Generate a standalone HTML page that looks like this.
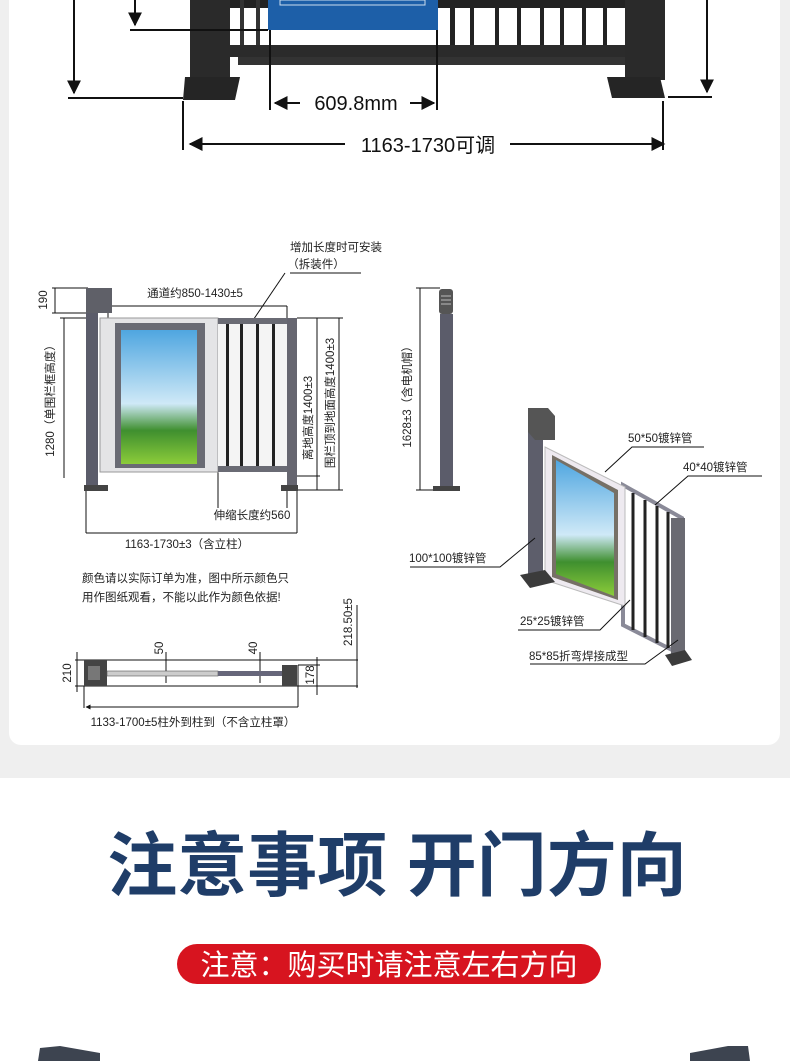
<!DOCTYPE html>
<html><head><meta charset="utf-8"><style>
html,body{margin:0;padding:0;background:#efefef;}
svg{display:block;}
text{font-family:"Liberation Sans","Noto Sans CJK SC",sans-serif;}
</style></head><body>
<svg width="790" height="1061" viewBox="0 0 790 1061" xmlns="http://www.w3.org/2000/svg">
<defs>
<marker id="ar" viewBox="0 0 10 10" refX="9" refY="5" markerWidth="7" markerHeight="7" orient="auto-start-reverse"><path d="M0,0L10,5L0,10z" fill="#111"/></marker>
<marker id="ar2" viewBox="0 0 10 10" refX="9" refY="5" markerWidth="5" markerHeight="5" orient="auto-start-reverse"><path d="M0,0L10,5L0,10z" fill="#111"/></marker>
<linearGradient id="sky" x1="0" y1="0" x2="0" y2="1"><stop offset="0" stop-color="#4fa6e0"/><stop offset="0.55" stop-color="#cfe9f7"/><stop offset="0.75" stop-color="#3f8f2f"/><stop offset="1" stop-color="#8ccc3a"/></linearGradient>
</defs>
<rect x="0" y="0" width="790" height="1061" fill="#efefef"/>
<path d="M9,0H780V733a12,12 0 0 1 -12,12H21a12,12 0 0 1 -12,-12z" fill="#fff"/>
<rect x="0" y="778" width="790" height="283" fill="#fff"/>

<!-- top gate photo -->
<rect x="225" y="0" width="415" height="8" fill="#222"/>
<rect x="228" y="45" width="410" height="12" fill="#2b2b2b"/>
<rect x="238" y="57" width="400" height="8" fill="#333"/>
<rect x="240" y="0" width="4" height="45" fill="#333"/>
<rect x="256" y="0" width="4" height="45" fill="#333"/>
<rect x="268" y="0" width="170" height="30" fill="#1d5fa8"/>
<rect x="280" y="0" width="145" height="5" fill="none" stroke="#cde" stroke-width="1"/>
<g fill="#222"><rect x="450" y="0" width="5" height="45"/><rect x="470" y="0" width="4" height="45"/><rect x="495" y="0" width="4" height="45"/><rect x="517" y="0" width="4" height="45"/><rect x="540" y="0" width="4" height="45"/><rect x="560" y="0" width="4" height="45"/><rect x="582" y="0" width="4" height="45"/><rect x="603" y="0" width="4" height="45"/></g>
<rect x="190" y="0" width="40" height="80" fill="#2a2a2a"/>
<path d="M185,77H240L235,100H183z" fill="#252525"/>
<rect x="625" y="0" width="40" height="80" fill="#2a2a2a"/>
<path d="M607,77H660L665,98H612z" fill="#252525"/>

<g stroke="#111" stroke-width="2" fill="none">
<line x1="74" y1="0" x2="74" y2="93" marker-end="url(#ar)"/>
<line x1="68" y1="98" x2="183" y2="98"/>
<line x1="135" y1="0" x2="135" y2="25" marker-end="url(#ar)"/>
<line x1="130" y1="30" x2="268" y2="30"/>
<line x1="270" y1="30" x2="270" y2="110"/>
<line x1="437" y1="30" x2="437" y2="110"/>
<line x1="300" y1="103" x2="275" y2="103" marker-end="url(#ar)"/>
<line x1="410" y1="103" x2="434" y2="103" marker-end="url(#ar)"/>
<line x1="183" y1="101" x2="183" y2="150"/>
<line x1="663" y1="101" x2="663" y2="150"/>
<line x1="230" y1="144" x2="190" y2="144" marker-end="url(#ar)"/>
<line x1="230" y1="144" x2="345" y2="144"/>
<line x1="510" y1="144" x2="664" y2="144" marker-end="url(#ar)"/>
<line x1="707" y1="0" x2="707" y2="92" marker-end="url(#ar)"/>
<line x1="668" y1="97" x2="712" y2="97"/>
</g>
<text x="356" y="110" font-size="20" text-anchor="middle" fill="#111">609.8mm</text>
<text x="428" y="152" font-size="20" text-anchor="middle" fill="#111">1163-1730可调</text>

<!-- front elevation -->
<text x="336" y="251" font-size="11.5" text-anchor="middle" fill="#222">增加长度时可安装</text>
<text x="316" y="268" font-size="11.5" text-anchor="middle" fill="#222">（拆装件）</text>
<line x1="290" y1="273" x2="361" y2="273" stroke="#111"/>
<line x1="285" y1="273" x2="243" y2="335" stroke="#111"/>
<text x="195" y="297" font-size="11.5" text-anchor="middle" fill="#222">通道约850-1430±5</text>
<g stroke="#111" stroke-width="1" fill="none">
<line x1="52" y1="288" x2="88" y2="288"/><line x1="52" y1="313" x2="88" y2="313"/><line x1="55" y1="288" x2="55" y2="313"/>
<line x1="108" y1="306" x2="287" y2="306"/><line x1="108" y1="306" x2="108" y2="318"/><line x1="287" y1="306" x2="287" y2="318"/>
<line x1="64" y1="318" x2="64" y2="478"/><line x1="60" y1="318" x2="86" y2="318"/>
<line x1="297" y1="318" x2="343" y2="318"/>
<line x1="317" y1="318" x2="317" y2="490"/><line x1="339" y1="318" x2="339" y2="490"/>
<line x1="297" y1="490" x2="343" y2="490"/><line x1="297" y1="476" x2="320" y2="476"/>
<line x1="218" y1="472" x2="218" y2="508"/><line x1="287" y1="491" x2="287" y2="508"/>
<line x1="86" y1="491" x2="86" y2="533"/><line x1="297" y1="491" x2="297" y2="533"/><line x1="86" y1="533" x2="297" y2="533"/>
</g>
<text transform="translate(47,300) rotate(-90)" font-size="11.5" text-anchor="middle" fill="#222">190</text>
<text transform="translate(54,398) rotate(-90)" font-size="11.5" text-anchor="middle" fill="#222">1280（单围栏框高度）</text>
<text transform="translate(312,418) rotate(-90)" font-size="11.5" text-anchor="middle" fill="#222">离地高度1400±3</text>
<text transform="translate(334,403) rotate(-90)" font-size="11.5" text-anchor="middle" fill="#222">围栏顶到地面高度1400±3</text>
<text x="252" y="519" font-size="11.5" text-anchor="middle" fill="#222">伸缩长度约560</text>
<text x="187" y="548" font-size="11.5" text-anchor="middle" fill="#222">1163-1730±3（含立柱）</text>
<rect x="86" y="288" width="26" height="25" fill="#5f6068"/>
<rect x="86" y="313" width="12" height="174" fill="#5b5c6a"/>
<rect x="84" y="485" width="24" height="6" fill="#444"/>
<rect x="100" y="318" width="118" height="154" fill="#e4e4e6" stroke="#999"/>
<rect x="115" y="323" width="90" height="145" fill="#6a6b74"/>
<rect x="121" y="330" width="76" height="134" fill="url(#sky)"/>
<rect x="218" y="318" width="69" height="6" fill="#6a6b74"/>
<rect x="218" y="466" width="69" height="6" fill="#6a6b74"/>
<rect x="218" y="324" width="69" height="142" fill="#f4f4f4"/>
<g fill="#222"><rect x="226" y="324" width="3" height="142"/><rect x="240" y="324" width="3" height="142"/><rect x="256" y="324" width="3" height="142"/><rect x="272" y="324" width="3" height="142"/></g>
<rect x="287" y="318" width="10" height="169" fill="#666670"/>
<rect x="281" y="485" width="17" height="6" fill="#444"/>

<!-- side post -->
<line x1="420" y1="288" x2="420" y2="490" stroke="#111"/>
<line x1="416" y1="288" x2="440" y2="288" stroke="#111"/>
<line x1="416" y1="490" x2="440" y2="490" stroke="#111"/>
<text transform="translate(411,394) rotate(-90)" font-size="11.5" text-anchor="middle" fill="#222">1628±3（含电机帽）</text>
<rect x="439" y="289" width="14" height="25" rx="3" fill="#555"/>
<g stroke="#bbb"><line x1="441" y1="296" x2="451" y2="296"/><line x1="441" y1="300" x2="451" y2="300"/><line x1="441" y1="304" x2="451" y2="304"/></g>
<rect x="440" y="314" width="13" height="174" fill="#5b5c6a"/>
<rect x="433" y="486" width="27" height="5" fill="#444"/>

<!-- isometric -->
<polygon points="623,485 682,518 682,655 623,625" fill="#fff" stroke="#8a8a98" stroke-width="4"/>
<g stroke="#222" stroke-width="3"><line x1="633" y1="493" x2="633" y2="630"/><line x1="645" y1="500" x2="645" y2="637"/><line x1="657" y1="506" x2="657" y2="643"/><line x1="668" y1="512" x2="668" y2="648"/></g>
<polygon points="545,447 625,487 625,606 545,580" fill="#eeeaf0" stroke="#bbb"/>
<polygon points="552,455 618,490 618,600 552,577" fill="#767066"/>
<polygon points="556,460 614,493 614,596 556,574" fill="url(#sky)"/>
<rect x="528" y="425" width="15" height="155" fill="#5d5e6b"/>
<polygon points="528,408 548,408 555,416 555,440 535,440 528,432" fill="#555"/>
<polygon points="520,575 545,570 555,582 530,588" fill="#3b3b3b"/>
<rect x="671" y="518" width="14" height="142" fill="#6a6a72"/>
<polygon points="665,655 685,650 692,660 672,666" fill="#3b3b3b"/>
<g stroke="#111" stroke-width="1" fill="none">
<polyline points="605,472 632,447 704,447"/>
<polyline points="655,505 688,476 762,476"/>
<polyline points="410,567 500,567 535,538"/>
<polyline points="518,630 600,630 630,600"/>
<polyline points="530,664 645,664 678,640"/>
</g>
<g font-size="11.5" fill="#222">
<text x="628" y="442">50*50镀锌管</text>
<text x="683" y="471">40*40镀锌管</text>
<text x="409" y="562">100*100镀锌管</text>
<text x="520" y="625">25*25镀锌管</text>
<text x="529" y="660">85*85折弯焊接成型</text>
</g>

<!-- notes -->
<text x="82" y="582" font-size="11.5" fill="#222">颜色请以实际订单为准，图中所示颜色只</text>
<text x="82" y="601" font-size="11.5" fill="#222">用作图纸观看，不能以此作为颜色依据!</text>

<!-- top view -->
<g stroke="#111" stroke-width="1" fill="none">
<line x1="75" y1="660" x2="358" y2="660"/><line x1="75" y1="686" x2="358" y2="686"/>
<line x1="77" y1="652" x2="77" y2="692"/>
<line x1="166" y1="652" x2="166" y2="683"/><line x1="260" y1="652" x2="260" y2="683"/>
<line x1="317" y1="657" x2="317" y2="695"/><line x1="298" y1="665" x2="320" y2="665"/>
<line x1="357" y1="605" x2="357" y2="688"/>
<line x1="84" y1="686" x2="84" y2="708"/><line x1="298" y1="665" x2="298" y2="707"/>
<line x1="298" y1="707" x2="86" y2="707" marker-end="url(#ar2)"/>
</g>
<rect x="84" y="660" width="23" height="26" fill="#444"/>
<rect x="88" y="666" width="12" height="14" fill="#777"/>
<rect x="107" y="671" width="111" height="5" fill="#ccc" stroke="#555" stroke-width="0.6"/>
<rect x="218" y="671" width="72" height="5" fill="#66667a"/>
<rect x="282" y="665" width="15" height="21" fill="#444"/>
<text transform="translate(71,673) rotate(-90)" font-size="11.5" text-anchor="middle" fill="#222">210</text>
<text transform="translate(163,648) rotate(-90)" font-size="11.5" text-anchor="middle" fill="#222">50</text>
<text transform="translate(257,648) rotate(-90)" font-size="11.5" text-anchor="middle" fill="#222">40</text>
<text transform="translate(314,675) rotate(-90)" font-size="11.5" text-anchor="middle" fill="#222">178</text>
<text transform="translate(352,622) rotate(-90)" font-size="11.5" text-anchor="middle" fill="#222">218.50±5</text>
<text x="193" y="726" font-size="11.5" text-anchor="middle" fill="#222">1133-1700±5柱外到柱到（不含立柱罩）</text>

<!-- bottom section -->
<text x="397" y="890" font-size="70" font-weight="bold" text-anchor="middle" fill="#1f3d68">注意事项 开门方向</text>
<rect x="177" y="944" width="424" height="40" rx="20" fill="#d7141f"/>
<text x="389" y="975" font-size="29" text-anchor="middle" fill="#fff">注意：购买时请注意左右方向</text>
<polygon points="40,1048 60,1046 100,1053 100,1061 38,1061" fill="#3d4450"/>
<polygon points="690,1053 728,1046 748,1046 750,1061 690,1061" fill="#3d4450"/>
</svg>
</body></html>
